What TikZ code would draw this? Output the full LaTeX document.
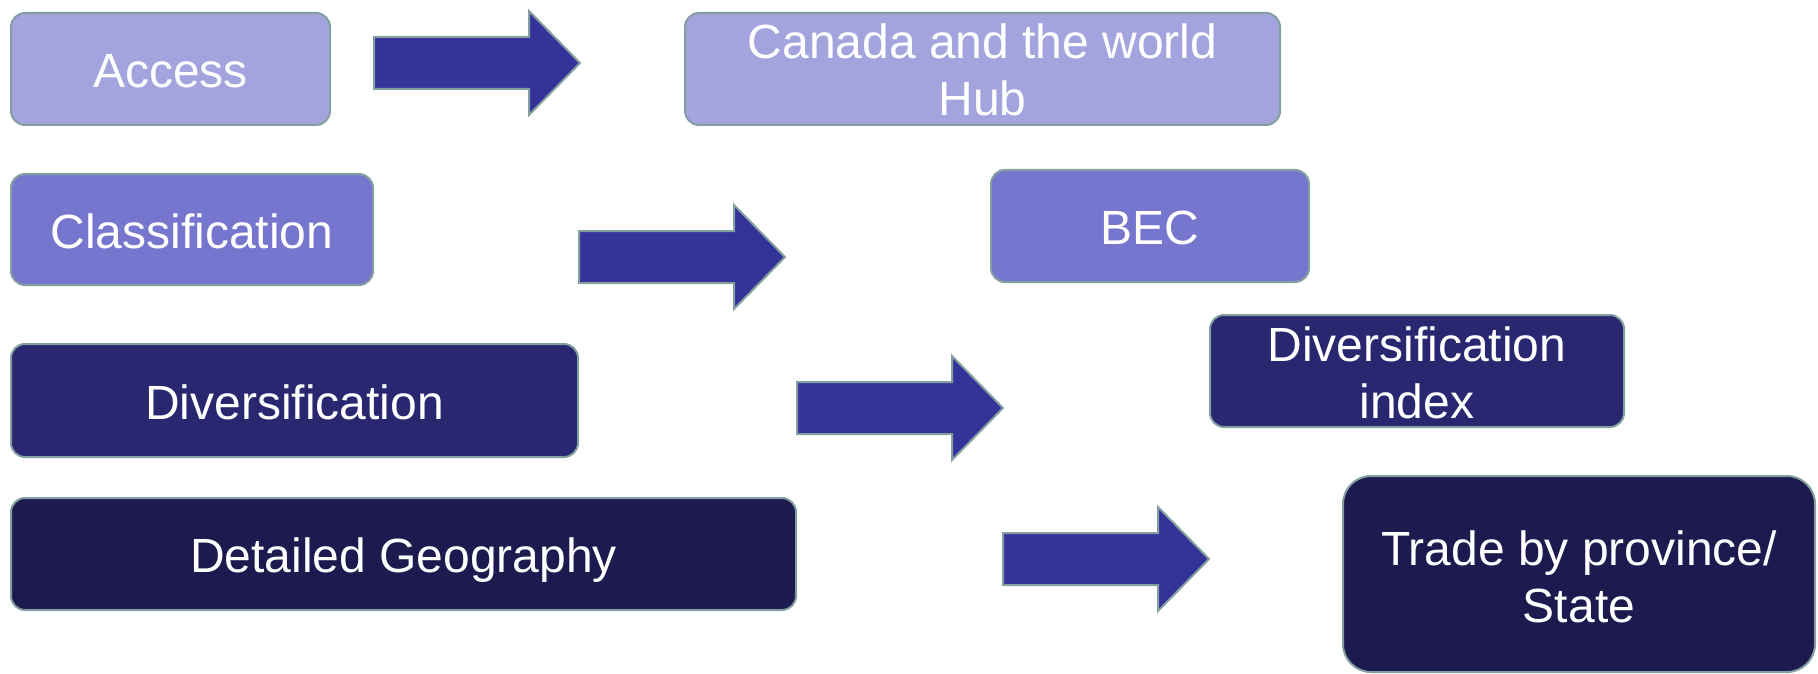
\documentclass[tikz,border=0pt]{standalone}
\usepackage{fontspec}
\setmainfont{Liberation Sans}
% invisible strut that sets the height of a label's first line
\newcommand{\toprule}[1]{\rule{0pt}{#1}}
\begin{document}
\definecolor{fillLight}{HTML}{A3A3DE}
\definecolor{fillMid}{HTML}{7676CF}
\definecolor{fillDark}{HTML}{282770}
\definecolor{fillDeep}{HTML}{1C1A4E}
\definecolor{arrowFill}{HTML}{35339A}
\definecolor{edgeGrey}{HTML}{849F9F}
\begin{tikzpicture}[x=1pt,y=-1pt,
  box/.style={draw=edgeGrey, line width=2pt, rounded corners=14pt,
    inner sep=0pt, align=center, text=white, text depth=0pt,
    font=\fontsize{48}{57}\selectfont},
  blockarrow/.style={draw=edgeGrey, line width=2pt, fill=arrowFill, line join=miter},
  fatarrow/.pic={\draw[blockarrow] (0,-26) -- (155,-26) -- (155,-52) -- (206,0)
      -- (155,52) -- (155,26) -- (0,26) -- cycle;}]
\useasboundingbox (0,0) rectangle (1818,674);

% left column: topics
\node[box, fill=fillLight, minimum width=319pt, minimum height=112pt] (access) at (170.5,69) {\toprule{37.5pt}Access};
\node[box, fill=fillMid, minimum width=362pt, minimum height=111pt] (classif) at (192,229.5) {\toprule{37.5pt}Classification};
\node[box, fill=fillDark, minimum width=567pt, minimum height=113pt] (divers) at (294.5,400.5) {\toprule{37.5pt}Diversification};
\node[box, fill=fillDeep, minimum width=785pt, minimum height=112pt] (geo) at (403.5,554) {\toprule{37.5pt}Detailed Geography};

% right column: products
\node[box, fill=fillLight, minimum width=595pt, minimum height=112pt] (canada) at (982.5,69) {\toprule{37pt}Canada and the world\\Hub};
\node[box, fill=fillMid, minimum width=318pt, minimum height=112pt] (bec) at (1150,226) {\toprule{37.5pt}BEC};
\node[box, fill=fillDark, minimum width=414pt, minimum height=112pt] (divindex) at (1417,371) {\toprule{37pt}Diversification\\index};
\node[box, fill=fillDeep, minimum width=472pt, minimum height=196pt, rounded corners=28pt] (trade) at (1579,574) {\toprule{39pt}Trade by province/\\State};

% block arrows between the columns
\pic at (374,63) {fatarrow};
\pic at (579,257) {fatarrow};
\pic at (797,408) {fatarrow};
\pic at (1003,559) {fatarrow};
\end{tikzpicture}
\end{document}
